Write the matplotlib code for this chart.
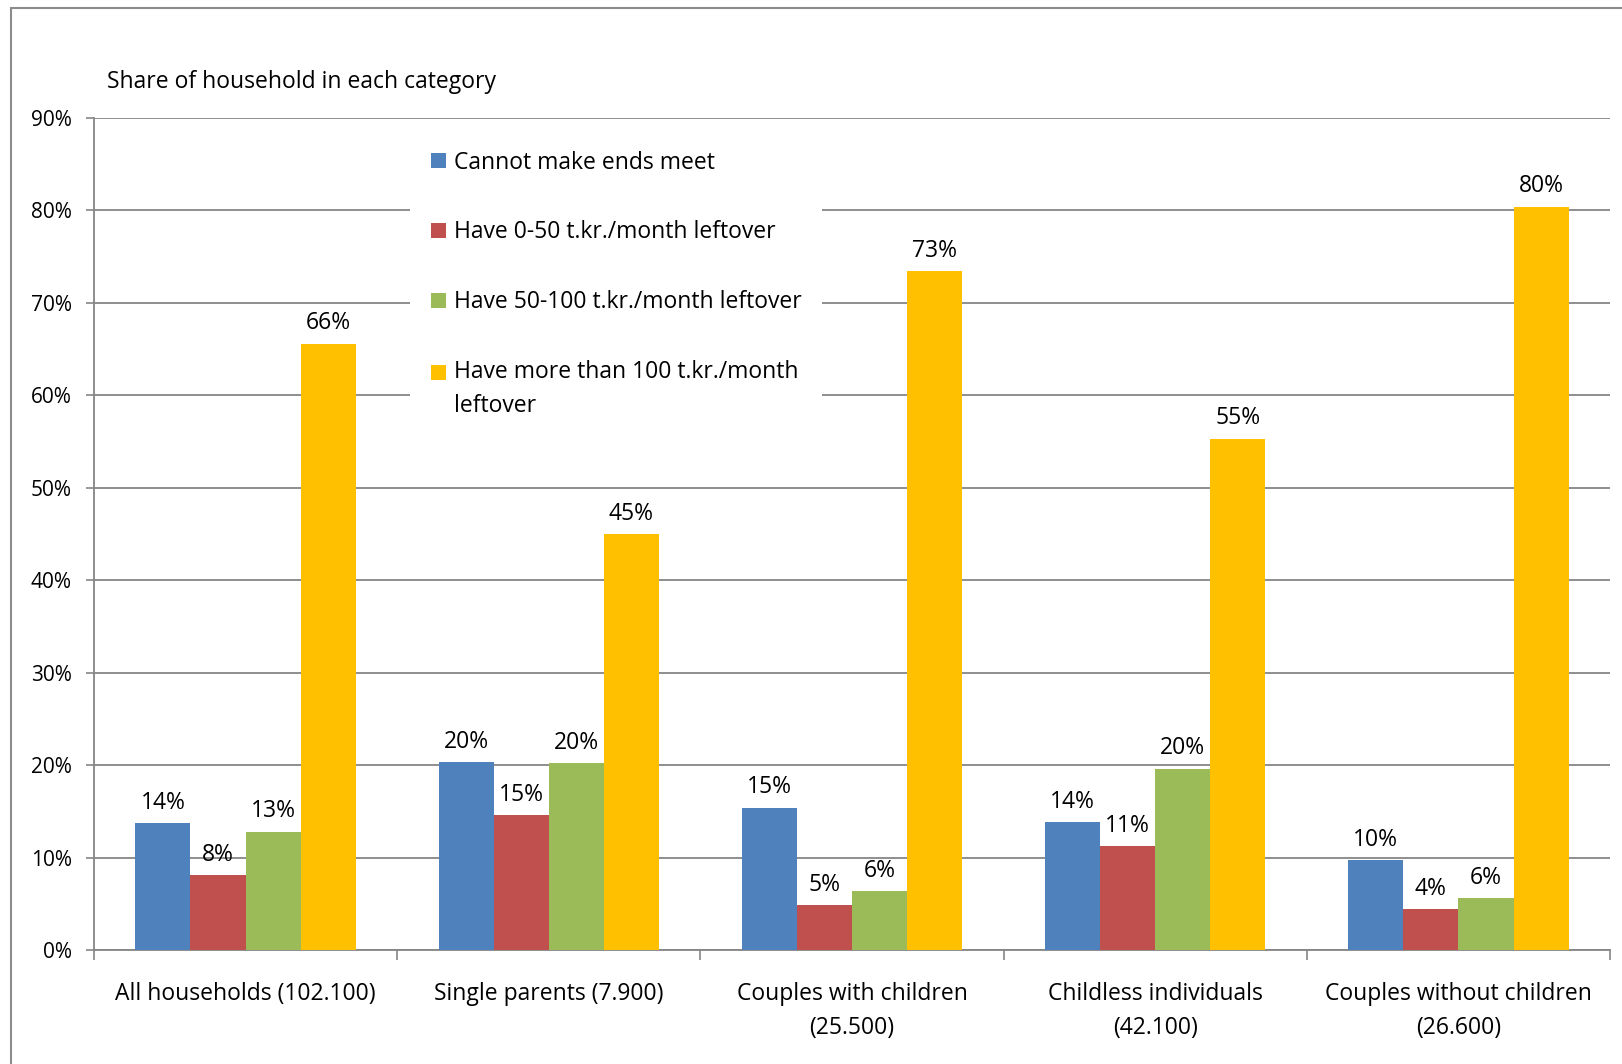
import matplotlib
matplotlib.use("Agg")
import matplotlib.pyplot as plt
import numpy as np
from matplotlib.patches import Rectangle
from matplotlib.ticker import FixedLocator
from matplotlib.legend_handler import HandlerPatch, update_from_first_child

categories = ["All households (102.100)", "Single parents (7.900)",
              "Couples with children\n(25.500)", "Childless individuals\n(42.100)",
              "Couples without children\n(26.600)"]
series_names = ["Cannot make ends meet", "Have 0-50 t.kr./month leftover",
                "Have 50-100 t.kr./month leftover",
                "Have more than 100 t.kr./month\nleftover"]
cannot_meet = [13.7, 20.3, 15.4, 13.85, 9.7]
left_0_50 = [8.1, 14.6, 4.85, 11.2, 4.4]
left_50_100 = [12.8, 20.2, 6.4, 19.6, 5.6]
left_100_plus = [65.6, 45.0, 73.4, 55.3, 80.4]
yticks = [0, 10, 20, 30, 40, 50, 60, 70, 80, 90]
ytick_labels = [f"{t}%" for t in yticks]
colors = ["#4F81BD", "#C0504D", "#9BBB59", "#FFC000"]

plt.rcParams['font.family'] = ['Open Sans', 'DejaVu Sans']
FS = 16.5
FS_TICK = 15
W, H = 1622, 1064
fig = plt.figure(figsize=(W / 100, H / 100), dpi=100)
ax = fig.add_axes([94 / W, 1 - 950 / H, (1610 - 94) / W, (950 - 118) / H])

series = [cannot_meet, left_0_50, left_50_100, left_100_plus]
x = np.arange(len(categories))
bw = 1 / 5.5
containers = []
for i, (vals, c, name) in enumerate(zip(series, colors, series_names)):
    bars = ax.bar(x + (i - 1.5) * bw, vals, bw, color=c, label=name, zorder=3, linewidth=0)
    ax.bar_label(bars, labels=[f"{v:.0f}%" for v in vals], padding=6, fontsize=FS)
    containers.append(bars)

ax.set_xlim(-0.5, len(categories) - 0.5)
ax.set_ylim(0, 90)
ax.set_yticks(yticks)
ax.set_yticklabels(ytick_labels, fontsize=FS_TICK)
ax.set_xticks(x)
ax.set_xticklabels(categories, fontsize=FS, linespacing=1.55, va='top')
ax.xaxis.set_minor_locator(FixedLocator(np.arange(-0.5, len(categories), 1.0)))
ax.tick_params(axis='x', which='major', length=0, pad=23)
ax.tick_params(axis='x', which='minor', length=7, width=1.2, color='#868686')
ax.tick_params(axis='y', length=6, width=1.2, color='#868686', pad=10)

ax.grid(axis='y', color='#868686', linewidth=1.3, zorder=0)
ax.set_axisbelow(True)
for s in ['top', 'right']:
    ax.spines[s].set_visible(False)
for s in ['left', 'bottom']:
    ax.spines[s].set_color('#868686')
    ax.spines[s].set_linewidth(1.3)

fig.text(107 / W, 1 - 82 / H, "Share of household in each category", fontsize=FS,
         ha='left', va='center')


def first_line_patch(legend, orig_handle, xdescent, ydescent, width, height, fontsize):
    return Rectangle((-xdescent, -ydescent + 0.75 * fontsize), width, height)


leg = ax.legend(loc='upper left', bbox_to_anchor=(410 / W, 1 - 130 / H),
                bbox_transform=fig.transFigure, frameon=True, fancybox=False,
                edgecolor='none', facecolor='white', framealpha=1,
                handlelength=0.65, handleheight=0.65, handletextpad=0.35,
                labelspacing=2.0, borderpad=0.9, fontsize=FS, borderaxespad=0,
                handler_map={containers[3]: HandlerPatch(patch_func=first_line_patch,
                                                         update_func=update_from_first_child)})
for t in leg.get_texts():
    t.set_linespacing(1.55)

fig.add_artist(Rectangle((11 / W, -0.1), 1.2, 1.1 - 8 / H, transform=fig.transFigure,
                         fill=False, edgecolor='#8c8c8c', linewidth=1.5, clip_on=False))

fig.savefig("out.png", dpi=100, facecolor='white')
